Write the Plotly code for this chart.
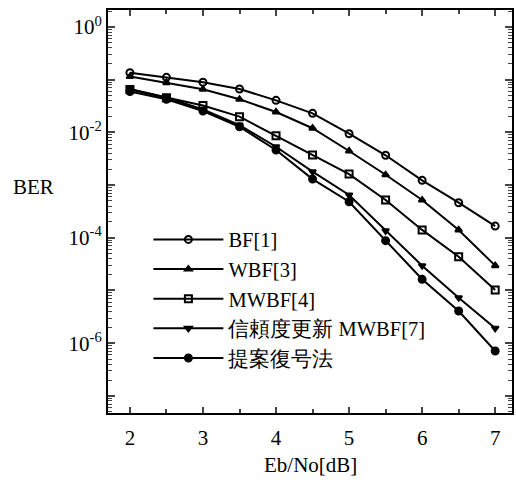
import plotly.graph_objects as go

ebno = [2, 2.5, 3, 3.5, 4, 4.5, 5, 5.5, 6, 6.5, 7]
ber_bf = [0.136, 0.111, 0.0893, 0.0667, 0.0406, 0.0230, 0.00944, 0.00368, 0.00123, 4.63e-4, 1.67e-4]
ber_wbf = [0.115, 0.0877, 0.0657, 0.0425, 0.0244, 0.0120, 0.00444, 0.00157, 5.21e-4, 1.41e-4, 2.96e-5]
ber_mwbf = [0.0652, 0.0455, 0.0324, 0.0199, 0.00865, 0.00373, 0.00162, 5.21e-4, 1.41e-4, 4.38e-5, 1.02e-5]
ber_rel = [0.0667, 0.0460, 0.0272, 0.0138, 0.00535, 0.00180, 6.49e-4, 1.36e-4, 2.96e-5, 7.30e-6, 1.92e-6]
ber_prop = [0.0597, 0.0425, 0.0255, 0.0128, 0.00463, 0.00130, 4.84e-4, 8.81e-5, 1.63e-5, 4.08e-6, 7.11e-7]

names = ["BF[1]", "WBF[3]", "MWBF[4]", "信頼度更新 MWBF[7]", "提案復号法"]
series = [ber_bf, ber_wbf, ber_mwbf, ber_rel, ber_prop]
symbols = ["circle-open", "triangle-up", "square-open", "triangle-down", "circle"]
sizes = [7, 6, 7, 6, 7]

x_ticks = [2, 3, 4, 5, 6, 7]
y_tickvals = [1, 1e-1, 1e-2, 1e-3, 1e-4, 1e-5, 1e-6, 1e-7]
y_ticktext = ["10<sup>0</sup>", "", "10<sup>-2</sup>", "", "10<sup>-4</sup>", "", "10<sup>-6</sup>", ""]

FONT = "Times New Roman"
LEG_FONT = "Liberation Serif"

fig = go.Figure()
for n, s, sym, sz in zip(names, series, symbols, sizes):
    fig.add_trace(go.Scatter(
        x=ebno, y=s, name=n, mode="lines+markers",
        line=dict(color="black", width=2),
        marker=dict(symbol=sym, size=sz, color="black", line=dict(color="black", width=2)),
    ))

fig.update_layout(
    width=516, height=483,
    margin=dict(l=108, r=4, t=10, b=70, autoexpand=False),
    paper_bgcolor="white", plot_bgcolor="white",
    font=dict(family=FONT, color="black", size=20),
    showlegend=True,
    legend=dict(x=0.1, y=0.48, xanchor="left", yanchor="top",
                bgcolor="rgba(0,0,0,0)", font=dict(family=LEG_FONT, size=20.5, color="black"),
                tracegroupgap=0, itemwidth=70),
    xaxis=dict(range=[1.70, 7.23], tickvals=x_ticks, ticks="inside", ticklen=6,
               tickwidth=1.5, mirror="allticks", showline=True, linecolor="black",
               linewidth=2, showgrid=False, zeroline=False, automargin=False,
               ticklabelstandoff=5,
               minor=dict(ticks="inside", ticklen=4, dtick=0.5, tick0=0, tickwidth=1.5),
               tickfont=dict(family=FONT, size=21)),
    yaxis=dict(type="log", range=[-7.325, 0.323], tickvals=y_tickvals, ticktext=y_ticktext,
               ticks="inside", ticklen=7, tickwidth=1.5, mirror="allticks",
               showline=True, linecolor="black", linewidth=2, showgrid=False,
               zeroline=False, automargin=False,
               minor=dict(ticks="inside", ticklen=4, dtick="D1", tickwidth=1),
               tickfont=dict(family=FONT, size=21)),
    annotations=[
        dict(text="BER", xref="paper", yref="paper", x=-0.184, y=0.56, xanchor="center",
             yanchor="middle", showarrow=False, font=dict(family=FONT, size=21)),
        dict(text="Eb/No[dB]", xref="paper", yref="paper", x=0.5, y=-0.095, xanchor="center",
             yanchor="top", showarrow=False, font=dict(family=FONT, size=21)),
    ],
)

fig.write_html("out.html", config={"displayModeBar": False},
               post_script="document.body.style.margin='0';")
